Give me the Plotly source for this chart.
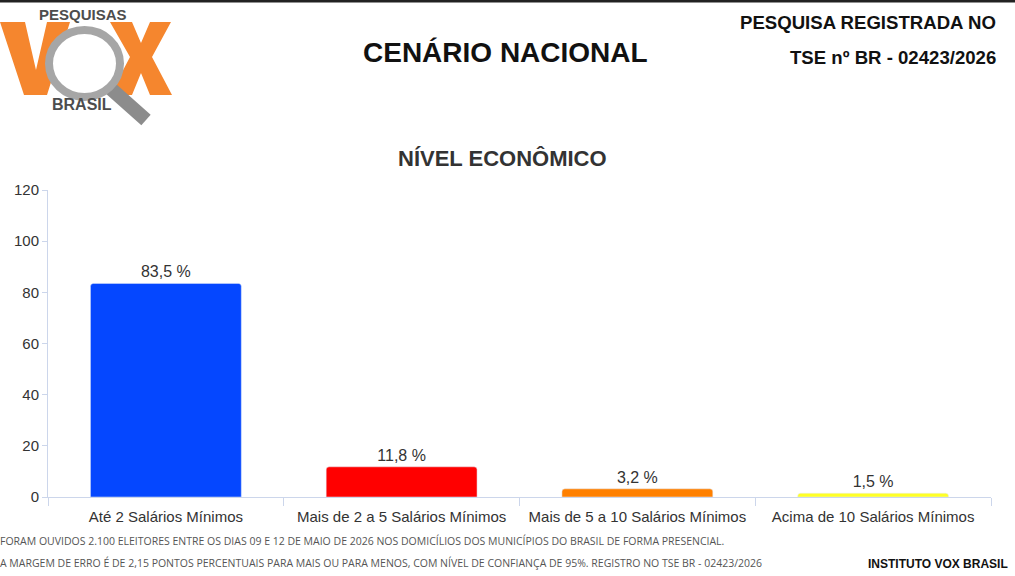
import plotly.graph_objects as go

# data
categories = ['Até 2 Salários Mínimos', 'Mais de 2 a 5 Salários Mínimos',
              'Mais de 5 a 10 Salários Mínimos', 'Acima de 10 Salários Mínimos']
values = [83.5, 11.8, 3.2, 1.5]
bar_colors = ['#0547ff', '#ff0000', '#ff8000', '#ffff26']
y_ticks = [0, 20, 40, 60, 80, 100, 120]

W, H = 1015, 576
L, R, T, B = 48, 24, 190, 79
PW, PH = W - L - R, H - T - B


def px(x):
    return (x - L) / PW


def py(y):
    return (H - B - y) / PH


fig = go.Figure()
fig.add_trace(go.Bar(x=categories, y=values, marker=dict(color=bar_colors, cornerradius=3),
                     texttemplate='%{y:.1f} %', textposition='outside',
                     textfont=dict(size=16, color='#333333'), cliponaxis=False))

shapes = []
# top dark border
shapes.append(dict(type='rect', xref='paper', yref='paper', x0=px(0), x1=px(W), y0=py(2.5), y1=py(0),
                   fillcolor='#222222', line=dict(width=0), layer='above'))
# logo: V and X
orange = '#f5862e'
v_pts = [(0, 22), (25, 22), (36, 70), (47, 22), (70, 22), (47, 95), (24, 95)]
x_pts = [(110, 22), (132, 22), (141, 43), (150, 22), (171, 22), (152, 57), (172, 95),
         (150, 95), (141, 73), (132, 95), (110, 95), (130, 57)]
for pts in (v_pts, x_pts):
    path = 'M ' + ' L '.join(f'{px(a):.5f},{py(b):.5f}' for a, b in pts) + ' Z'
    shapes.append(dict(type='path', xref='paper', yref='paper', path=path,
                       fillcolor=orange, line=dict(width=0)))
# magnifier handle
shapes.append(dict(type='line', xref='paper', yref='paper', x0=px(110), y0=py(88), x1=px(146), y1=py(120),
                   line=dict(color='#8c8c8c', width=14)))
# magnifier ring
shapes.append(dict(type='circle', xref='paper', yref='paper', x0=px(49), x1=px(120), y0=py(97), y1=py(30),
                   fillcolor='white', line=dict(color='#a6a6a6', width=8)))

annotations = [
    dict(text='<b>PESQUISAS</b>', x=px(83), y=py(14), font=dict(size=15, color='#4d4d4d'),
         xanchor='center', yanchor='middle'),
    dict(text='<b>BRASIL</b>', x=px(82), y=py(104), font=dict(size=16, color='#4d4d4d'),
         xanchor='center', yanchor='middle'),
    dict(text='<b>CENÁRIO NACIONAL</b>', x=px(505), y=py(52), font=dict(size=28, color='#111111'),
         xanchor='center', yanchor='middle'),
    dict(text='<b>PESQUISA REGISTRADA NO</b>', x=px(998), y=py(22), font=dict(size=18.6, color='#111111'),
         xanchor='right', yanchor='middle'),
    dict(text='<b>TSE nº BR - 02423/2026</b>', x=px(998), y=py(57), font=dict(size=18.6, color='#111111'),
         xanchor='right', yanchor='middle'),
    dict(text='<b>NÍVEL ECONÔMICO</b>', x=px(502), y=py(158), font=dict(size=22, color='#333333'),
         xanchor='center', yanchor='middle'),
    dict(text='FORAM OUVIDOS 2.100 ELEITORES ENTRE OS DIAS 09 E 12 DE MAIO DE 2026 NOS DOMICÍLIOS DOS MUNICÍPIOS DO BRASIL DE FORMA PRESENCIAL.',
         x=px(-2), y=py(541), font=dict(size=10.5, color='#555555', family='Open Sans'),
         xanchor='left', yanchor='middle'),
    dict(text='A MARGEM DE ERRO É DE 2,15 PONTOS PERCENTUAIS PARA MAIS OU PARA MENOS, COM NÍVEL DE CONFIANÇA DE 95%. REGISTRO NO TSE BR - 02423/2026',
         x=px(-2), y=py(563), font=dict(size=10.5, color='#555555', family='Open Sans'),
         xanchor='left', yanchor='middle'),
    dict(text='<b>INSTITUTO VOX BRASIL</b>', x=px(1010), y=py(564), font=dict(size=12, color='#111111'),
         xanchor='right', yanchor='middle'),
]
for a in annotations:
    a.update(xref='paper', yref='paper', showarrow=False)

fig.update_layout(
    width=W, height=H,
    margin=dict(l=L, r=R, t=T, b=B, pad=0),
    paper_bgcolor='white', plot_bgcolor='white',
    font=dict(family='Liberation Sans, Arial, sans-serif', color='#333333'),
    separators=',.',
    bargap=0.36,
    showlegend=False,
    shapes=shapes,
    annotations=annotations,
    xaxis=dict(showgrid=False, showline=True, linecolor='#ccd6eb', linewidth=1,
               ticks='outside', tickson='boundaries', ticklen=8, tickcolor='#ccd6eb',
               ticklabelstandoff=6, tickfont=dict(size=15, color='#333333')),
    yaxis=dict(range=[0, 120], tickvals=y_ticks, showgrid=False, zeroline=False,
               showline=True, linecolor='#ccd6eb', linewidth=1,
               ticks='outside', ticklen=5, tickcolor='#ccd6eb',
               tickfont=dict(size=15, color='#333333')),
)

# page body has a default 8px margin; remove it so the figure fills the window
fig.write_html('out.html', config={'displayModeBar': False},
               post_script="document.body.style.margin='0';")
